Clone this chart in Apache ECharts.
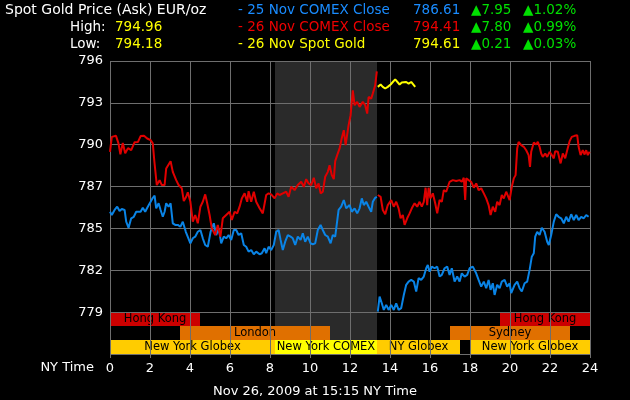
<!DOCTYPE html>
<html><head><meta charset="utf-8">
<script src="https://cdn.jsdelivr.net/npm/echarts@6/dist/echarts.min.js"></script>
<style>html,body{margin:0;padding:0;background:#000}#c{width:630px;height:400px}</style>
</head><body><div id="c"></div>
<script>
// ---- data (hours NY time, EUR/oz) ----
const nov26Comex = [[0,789.82],[0.09,790.83],[0.3,790.90],[0.42,790.41],[0.52,789.66],[0.64,790.41],[0.76,789.73],[0.9,790.07],[1.06,789.93],[1.23,790.47],[1.4,790.49],[1.53,790.88],[1.7,790.90],[1.86,790.72],[2.03,790.61],[2.14,790.39],[2.22,789.15],[2.34,787.58],[2.48,787.91],[2.59,787.58],[2.73,787.58],[2.81,788.70],[3.03,789.19],[3.14,788.47],[3.31,787.91],[3.43,787.58],[3.59,787.36],[3.69,786.50],[3.81,786.79],[3.89,787.09],[4.02,786.45],[4.14,785.11],[4.26,785.56],[4.39,785.00],[4.52,786.12],[4.64,786.45],[4.76,786.95],[4.86,786.35],[4.98,785.56],[5.09,784.66],[5.26,784.21],[5.39,784.89],[5.52,784.10],[5.64,785.34],[5.81,785.56],[5.98,785.78],[6.09,785.22],[6.23,785.78],[6.36,785.67],[6.48,786.12],[6.59,786.68],[6.73,787.02],[6.86,786.45],[6.93,787.17],[7.06,786.45],[7.19,787.13],[7.31,786.45],[7.48,786.01],[7.64,785.67],[7.81,786.91],[7.93,787.02],[8.06,786.95],[8.23,786.68],[8.36,787.02],[8.48,786.91],[8.64,787.02],[8.81,787.13],[8.93,786.79],[9.06,787.46],[9.23,787.24],[9.39,787.58],[9.56,787.80],[9.69,787.46],[9.81,787.98],[9.93,787.69],[10.06,787.58],[10.19,788.07],[10.31,787.36],[10.43,787.69],[10.53,787.02],[10.64,787.13],[10.76,788.14],[10.89,788.47],[10.98,788.92],[11.09,788.25],[11.19,787.98],[11.26,789.19],[11.36,789.60],[11.48,790.05],[11.59,790.76],[11.69,791.28],[11.78,790.27],[11.93,791.62],[12.03,792.29],[12.14,793.97],[12.23,792.96],[12.36,793.19],[12.48,792.85],[12.64,793.19],[12.76,792.96],[12.86,792.40],[12.93,793.52],[13.06,793.41],[13.14,793.75],[13.26,794.31],[13.34,795.25],[13.36,null],
[13.39,786.91],[13.53,786.79],[13.64,785.90],[13.76,785.61],[13.89,786.23],[14.06,786.57],[14.19,786.12],[14.31,786.45],[14.43,786.01],[14.53,785.34],[14.64,785.56],[14.73,784.89],[14.86,785.34],[14.98,785.67],[15.09,786.01],[15.23,786.35],[15.36,786.12],[15.48,786.45],[15.59,786.12],[15.69,786.45],[15.78,787.40],[15.86,786.23],[15.93,787.40],[16.02,786.68],[16.14,787.02],[16.26,786.35],[16.36,785.67],[16.48,786.57],[16.59,786.45],[16.69,787.24],[16.81,787.13],[16.98,787.80],[17.14,787.91],[17.31,787.85],[17.48,787.91],[17.59,787.80],[17.69,788.07],[17.76,786.57],[17.81,788.03],[17.93,787.91],[18.06,787.80],[18.19,787.40],[18.31,787.69],[18.43,787.24],[18.56,787.36],[18.69,787.02],[18.81,786.68],[18.93,786.23],[19.03,785.56],[19.14,786.12],[19.26,785.78],[19.36,786.45],[19.48,786.23],[19.59,786.91],[19.69,786.68],[19.81,787.13],[19.98,786.57],[20.09,787.46],[20.19,788.03],[20.28,788.25],[20.36,790.05],[20.43,790.49],[20.56,790.27],[20.69,790.16],[20.81,789.93],[20.93,789.60],[21.0,788.81],[21.06,789.82],[21.19,790.45],[21.31,790.32],[21.39,790.49],[21.48,790.16],[21.56,789.71],[21.64,789.48],[21.76,789.71],[21.86,789.48],[21.98,789.82],[22.09,789.60],[22.19,789.38],[22.26,789.87],[22.39,789.82],[22.53,789.04],[22.64,789.71],[22.76,789.38],[22.86,789.93],[22.98,790.54],[23.09,790.83],[23.23,790.90],[23.36,790.94],[23.43,790.16],[23.53,789.60],[23.64,789.93],[23.73,789.64],[23.81,789.93],[23.89,789.60],[23.98,789.82]];

const nov25Comex = [[0,785.78],[0.09,785.56],[0.23,785.90],[0.36,786.12],[0.48,785.83],[0.59,785.96],[0.73,785.90],[0.81,785.11],[0.93,784.70],[1.06,785.34],[1.19,785.44],[1.31,785.78],[1.39,785.90],[1.53,785.78],[1.64,786.05],[1.76,785.78],[1.89,786.12],[2.03,786.45],[2.14,786.72],[2.23,786.86],[2.31,786.01],[2.43,786.35],[2.53,785.90],[2.64,785.44],[2.73,785.78],[2.81,786.35],[2.93,786.12],[3.03,786.35],[3.14,785.00],[3.26,784.89],[3.39,784.89],[3.52,784.77],[3.64,785.11],[3.73,785.02],[3.79,784.43],[3.89,784.49],[4.02,783.65],[4.14,783.99],[4.26,784.10],[4.39,784.43],[4.52,784.55],[4.64,783.99],[4.76,783.54],[4.89,783.42],[5.03,784.43],[5.19,785.00],[5.31,784.21],[5.44,784.66],[5.56,783.65],[5.69,784.10],[5.81,783.99],[5.93,784.21],[6.06,783.88],[6.19,784.55],[6.31,784.55],[6.43,784.21],[6.56,784.33],[6.69,783.54],[6.81,783.42],[6.93,783.09],[7.06,783.20],[7.19,782.91],[7.31,783.09],[7.48,782.91],[7.59,782.98],[7.73,783.32],[7.81,782.98],[7.93,783.42],[8.06,783.20],[8.19,783.54],[8.31,784.43],[8.43,784.55],[8.53,783.88],[8.64,783.20],[8.76,783.76],[8.89,784.21],[9.03,784.10],[9.14,783.99],[9.26,783.54],[9.39,784.10],[9.53,783.88],[9.64,784.33],[9.76,783.76],[9.89,784.10],[10.03,783.65],[10.14,783.59],[10.26,783.65],[10.39,784.55],[10.53,784.89],[10.64,784.55],[10.76,784.21],[10.89,784.10],[11.03,783.65],[11.14,784.21],[11.26,784.10],[11.36,784.03],[11.43,785.90],[11.56,786.12],[11.69,786.57],[11.81,786.01],[11.98,786.23],[12.09,785.78],[12.23,786.01],[12.36,785.67],[12.48,786.01],[12.59,786.68],[12.69,786.23],[12.81,786.45],[12.93,786.12],[13.06,785.78],[13.14,786.45],[13.26,786.72],[13.34,786.79],[13.36,null],
[13.39,779.05],[13.48,780.06],[13.59,779.61],[13.69,779.16],[13.81,779.50],[13.93,779.16],[14.06,779.50],[14.19,779.16],[14.31,779.61],[14.43,779.16],[14.56,779.28],[14.69,780.17],[14.81,780.85],[14.93,781.07],[15.06,781.18],[15.19,781.07],[15.31,780.40],[15.43,781.30],[15.56,781.18],[15.69,781.41],[15.81,781.97],[15.89,782.19],[15.98,781.74],[16.09,782.08],[16.23,781.97],[16.36,782.08],[16.48,781.41],[16.59,781.52],[16.73,781.97],[16.86,782.08],[16.98,781.52],[17.09,781.97],[17.23,781.07],[17.36,781.41],[17.48,781.07],[17.59,781.63],[17.73,781.41],[17.86,781.52],[17.98,781.97],[18.14,782.08],[18.31,781.63],[18.43,781.18],[18.56,780.73],[18.69,781.07],[18.81,780.62],[18.93,781.18],[19.03,780.51],[19.14,780.96],[19.23,780.17],[19.36,780.85],[19.48,780.62],[19.59,781.07],[19.73,781.18],[19.86,780.73],[19.98,780.96],[20.06,780.29],[20.23,780.85],[20.36,781.07],[20.48,780.62],[20.59,780.40],[20.73,780.96],[20.86,781.07],[20.98,781.86],[21.09,782.75],[21.19,782.98],[21.26,784.10],[21.36,784.43],[21.48,784.21],[21.59,784.70],[21.73,784.43],[21.86,783.76],[21.94,783.54],[22.06,784.21],[22.19,785.11],[22.31,785.61],[22.43,785.44],[22.56,785.34],[22.69,785.00],[22.81,785.44],[22.93,785.11],[23.06,785.61],[23.19,785.22],[23.31,785.56],[23.43,785.22],[23.56,785.44],[23.69,785.34],[23.81,785.56],[23.93,785.44]];

const nov26Spot = [[13.39,794.20],[13.53,794.36],[13.64,794.20],[13.76,794.09],[13.89,794.20],[14.03,794.36],[14.14,794.53],[14.26,794.71],[14.36,794.58],[14.48,794.36],[14.59,794.49],[14.69,794.42],[14.81,794.53],[14.93,794.42],[15.06,794.53],[15.14,794.58],[15.26,794.20]];

// COMEX session shading (hours)
const comexSpan = [[8.25, 13.35]];

// market sessions: name, start hour, end hour, row (0 top)
const sessionNames = ['Hong Kong','Hong Kong','London','Sydney','New York Globex','New York COMEX','NY Globex','New York Globex'];
const sessionStart = [0, 19.5, 3.5, 17, 0, 8.25, 13.35, 18];
const sessionEnd   = [4.5, 24, 11, 23, 8.25, 13.35, 17.5, 24];
const sessionRow   = [0, 0, 1, 1, 2, 2, 2, 2];

// header texts
const titleText = 'Spot Gold Price (Ask) EUR/oz';
const statLabels = ['High:', 'Low:'];
const statValues = ['794.96', '794.18'];
const legendLabels = ['- 25 Nov COMEX Close', '- 26 Nov COMEX Close', '- 26 Nov Spot Gold'];
const legendPrices = ['786.61', '794.41', '794.61'];
const legendChanges = ['\u25B27.95', '\u25B27.80', '\u25B20.21'];
const legendPercents = ['\u25B21.02%', '\u25B20.99%', '\u25B20.03%'];
const xAxisName = 'NY Time';
const footerText = 'Nov 26, 2009 at 15:15 NY Time';

// ---- styles ----
const FONT = 'DejaVu Sans';
const C_BLUE = '#0a84e6', C_RED = '#e00000', C_YEL = '#ffff00', C_GREEN = '#00e000';
const legendColors = ['#1a8cff', '#ee0000', '#ffff00'];
const sessionColors = {'Hong Kong':'#cc0000','London':'#e07000','Sydney':'#e07000','New York Globex':'#ffcc00','NY Globex':'#ffcc00','New York COMEX':'#ffff00'};
const Y_STEP = 2.8225, Y_MIN = 275 * Y_STEP, Y_MAX = 282 * Y_STEP;

const chart = echarts.init(document.getElementById('c'), null, {renderer: 'canvas'});

const graphic = [];
const txt = (text, x, y, fill, align, size) => graphic.push({type:'text', silent:true, style:{text, x, y, fill, align: align || 'left', verticalAlign:'middle', font: (size || 13.5) + 'px ' + FONT}});
txt(titleText, 5, 10, '#ffffff', 'left', 14);
statLabels.forEach((s, i) => { txt(s, 70, 27 + 17 * i, '#ffffff'); txt(statValues[i], 115, 27 + 17 * i, C_YEL); });
legendLabels.forEach((s, i) => {
  const y = 10 + 17 * i;
  txt(s, 238, y, legendColors[i]);
  txt(legendPrices[i], 413, y, legendColors[i]);
  txt(legendChanges[i], 471, y, C_GREEN);
  txt(legendPercents[i], 523, y, C_GREEN);
});
txt(xAxisName, 94, 368, '#ffffff', 'right', 13);
txt(footerText, 315, 392, '#ffffff', 'center', 13);

const lineSeries = (data, color) => ({type:'line', data, showSymbol:false, symbol:'none', connectNulls:false, z:5,
  lineStyle:{color, width:2}, itemStyle:{color}, emphasis:{disabled:true}, silent:true});

chart.setOption({
  animation: false,
  backgroundColor: '#000000',
  graphic,
  grid: {left:110, right:40, top:61, bottom:46, outerBoundsMode:'none', containLabel:false},
  xAxis: {type:'value', min:0, max:24, interval:2, z:3,
    axisLine:{show:false}, axisTick:{show:true, length:4, lineStyle:{color:'#6e6e6e'}},
    axisLabel:{color:'#ffffff', fontFamily:FONT, fontSize:13, margin:8},
    splitLine:{show:true, lineStyle:{color:'#6e6e6e', width:1}}},
  yAxis: {type:'value', min:Y_MIN, max:Y_MAX, interval:Y_STEP, z:3,
    axisLine:{show:false}, axisTick:{show:false},
    axisLabel:{color:'#ffffff', fontFamily:FONT, fontSize:13, margin:7, showMinLabel:false,
      formatter: v => String(Math.round(v))},
    splitLine:{show:true, lineStyle:{color:'#6e6e6e', width:1}}},
  series: [
    {type:'custom', z:1, silent:true, data: comexSpan, encode:{x:[0,1]},
      renderItem(params, api) {
        const cs = params.coordSys;
        const x0 = api.coord([api.value(0), Y_MAX])[0];
        const x1 = api.coord([api.value(1), Y_MAX])[0];
        return {type:'rect', shape:{x:x0, y:cs.y, width:x1 - x0, height:cs.height}, style:{fill:'#2a2a2a'}};
      }},
    {type:'custom', z:2, silent:true,
      data: sessionNames.map((n, i) => ({name:n, value:[sessionStart[i], sessionEnd[i], sessionRow[i]]})),
      encode:{x:[0,1]},
      renderItem(params, api) {
        const i = params.dataIndex;
        const row = api.value(2);
        const p0 = api.coord([api.value(0), Y_MIN + Y_STEP * (3 - row) / 3]);
        const p1 = api.coord([api.value(1), Y_MIN + Y_STEP * (2 - row) / 3]);
        return {type:'rect', shape:{x:p0[0], y:p0[1], width:p1[0] - p0[0], height:p1[1] - p0[1]},
          style:{fill: sessionColors[sessionNames[i]]},
          textContent:{style:{text: sessionNames[i], fill:'#000000', font:'11.5px ' + FONT}},
          textConfig:{position:'inside'}};
      }},
    lineSeries(nov25Comex, C_BLUE),
    lineSeries(nov26Comex, C_RED),
    lineSeries(nov26Spot, C_YEL)
  ]
});
</script></body></html>
